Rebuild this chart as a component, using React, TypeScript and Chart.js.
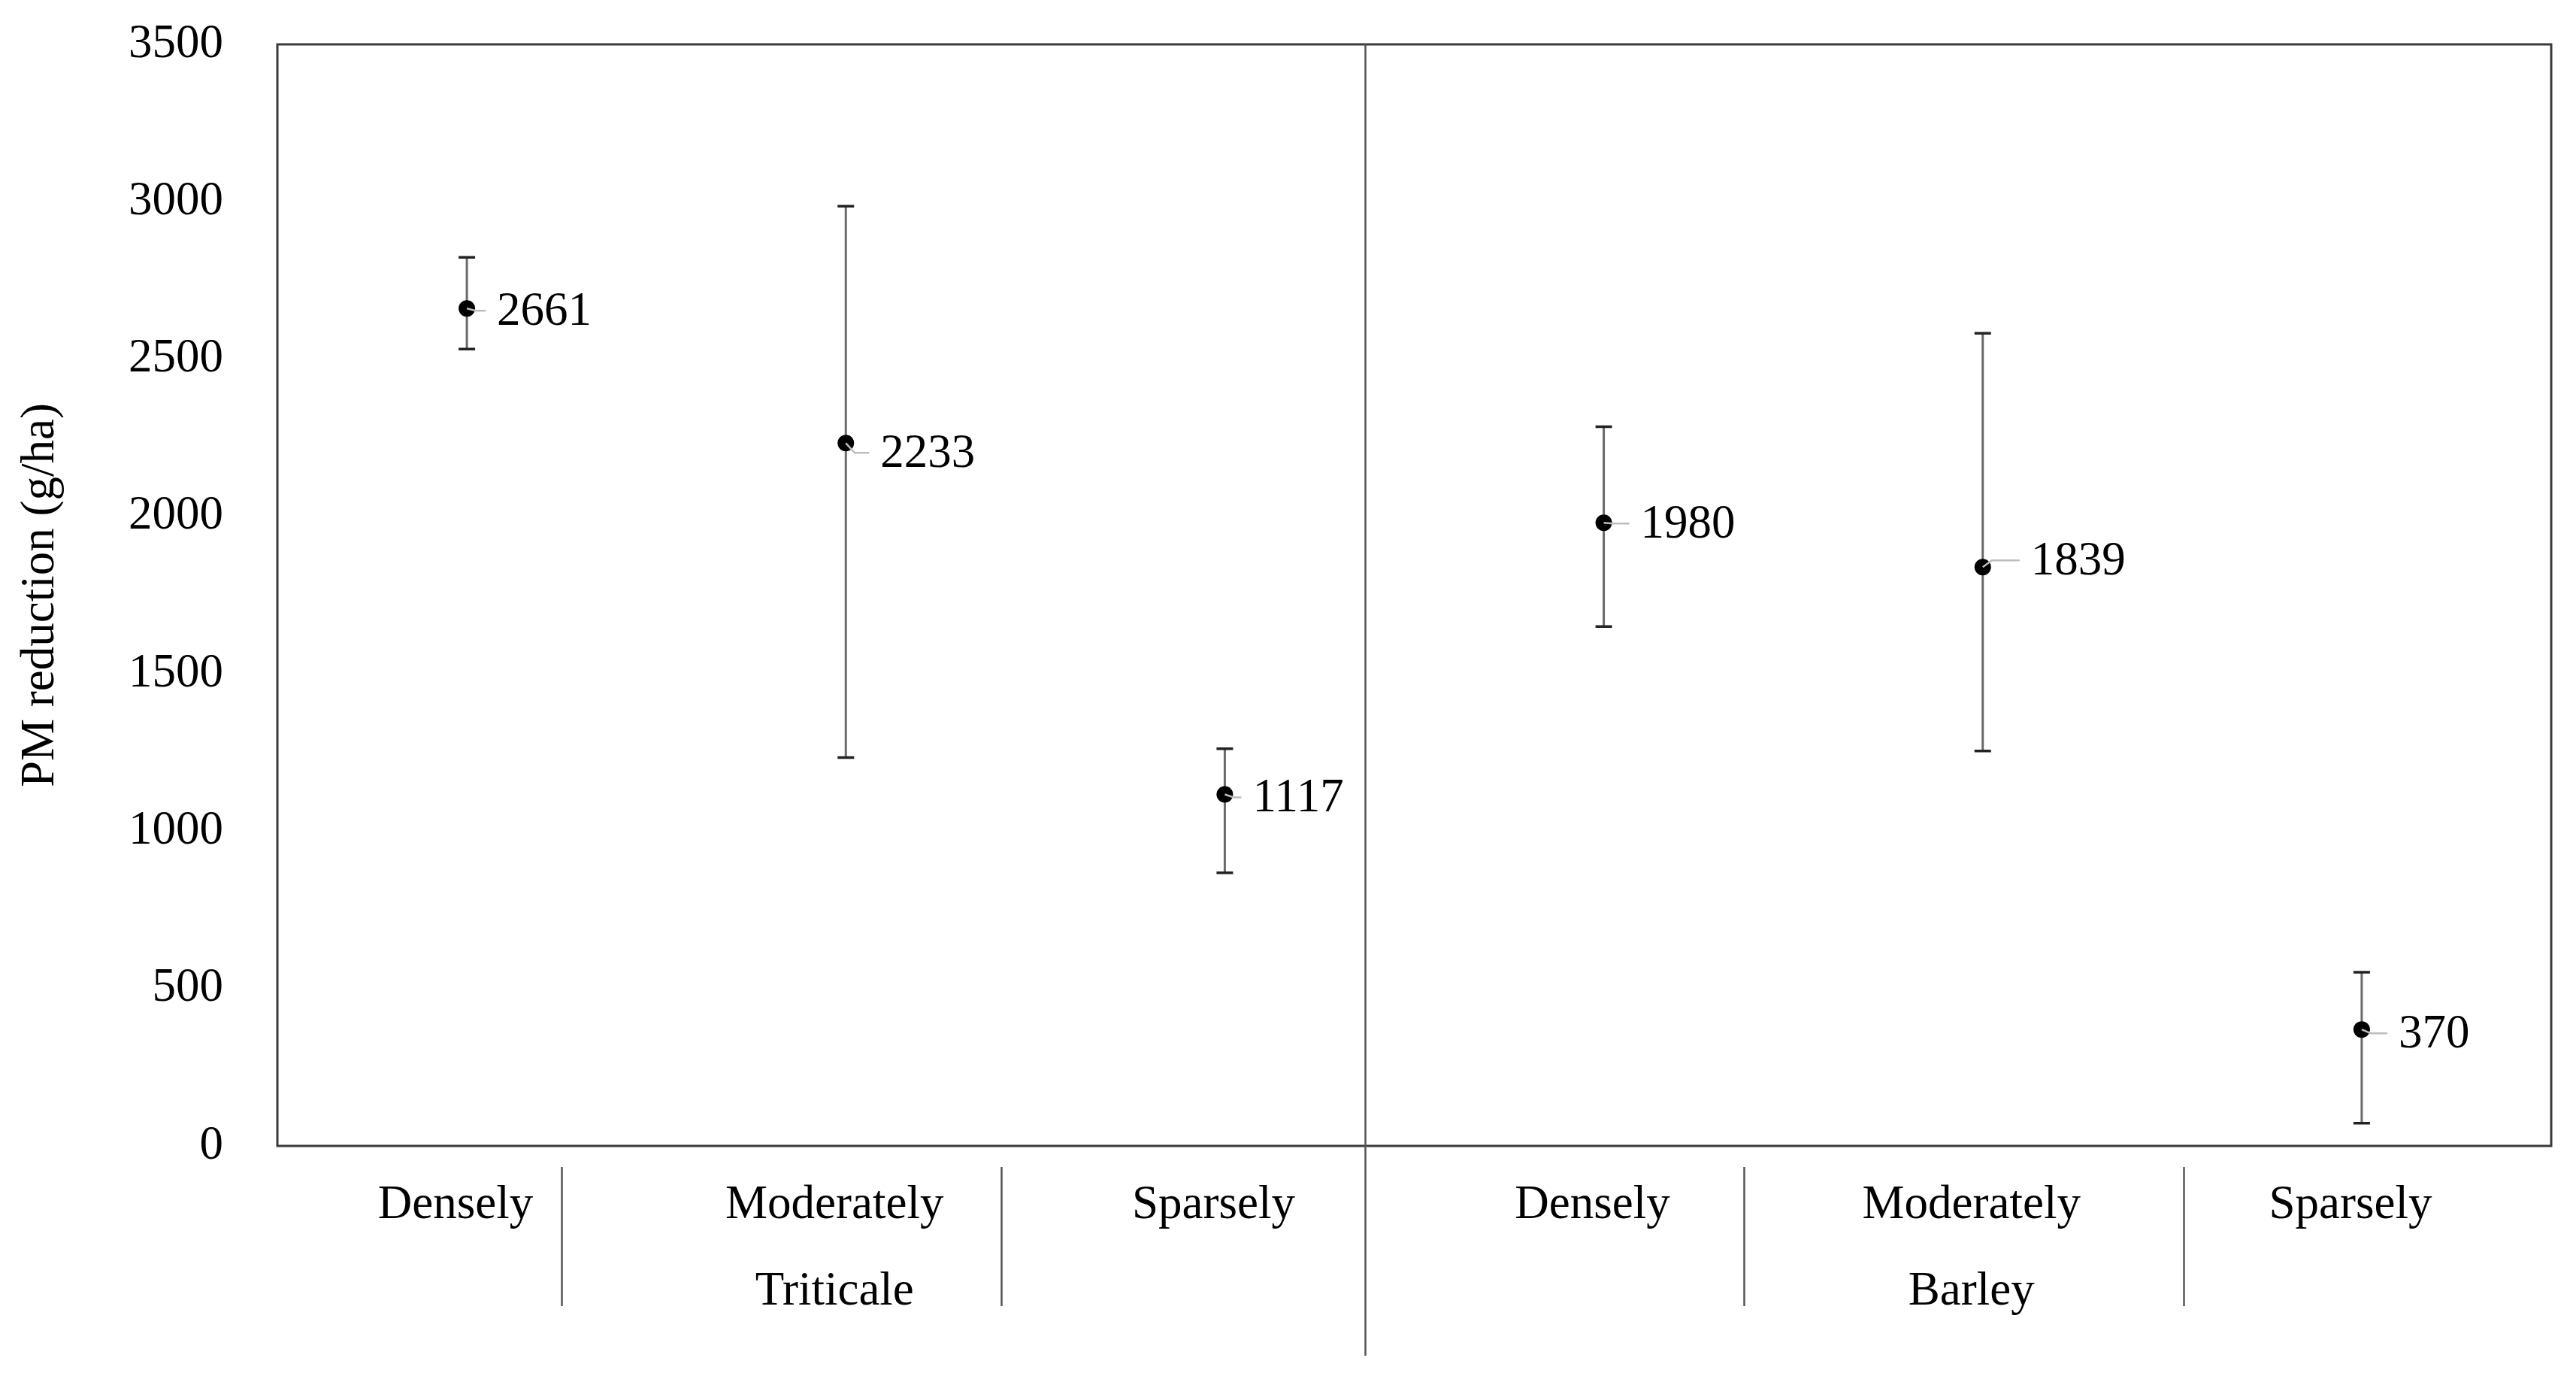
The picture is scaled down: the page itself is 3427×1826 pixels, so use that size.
import React, { useEffect, useRef } from 'react';
import { Chart, registerables } from 'chart.js';

Chart.register(...registerables);

// ---- data ----
const categories = ['Densely', 'Moderately', 'Sparsely', 'Densely', 'Moderately', 'Sparsely'];
const groups = ['Triticale', 'Barley'];
const meanValues = [2661, 2233, 1117, 1980, 1839, 370];
const lowerValues = [2532, 1234, 868, 1650, 1255, 72];
const upperValues = [2823, 2986, 1262, 2285, 2582, 552];
const yTickValues = [0, 500, 1000, 1500, 2000, 2500, 3000, 3500];
const yTitle = 'PM reduction (g/ha)';

// ---- styling / layout ----
const FONT = "'Liberation Serif', 'Times New Roman', serif";
const FONT_SIZE = 63;
// label offset (px) of each data label relative to its point: [dx to text left, dy to text middle]
const labelNudge: [number, number][] = [
  [40, 5],
  [46, 15],
  [37, 6],
  [49, 3],
  [64, -7],
  [49, 7],
];
// separator positions on the category axis (category index units)
const separatorAt = [0.25, 1.41, 2.37, 3.37, 4.53];
const groupDividerIndex = 2;

const xLabels = categories.map((c, i) => (i % 3 === 1 ? [c, groups[Math.floor(i / 3)]] : c));

const decorPlugin = {
  id: 'decor',
  beforeDatasetsDraw(chart: any) {
    const { ctx, chartArea, scales } = chart;
    const x = scales.x;
    const y = scales.y;
    ctx.save();
    // frame
    ctx.strokeStyle = '#3a3a3a';
    ctx.lineWidth = 3;
    ctx.strokeRect(chartArea.left, chartArea.top, chartArea.right - chartArea.left, chartArea.bottom - chartArea.top);
    // separators
    ctx.strokeStyle = '#555555';
    ctx.lineWidth = 2.5;
    separatorAt.forEach((v, i) => {
      const px = Math.round(x.getPixelForValue(v)) + 0.5;
      ctx.beginPath();
      if (i === groupDividerIndex) {
        ctx.moveTo(px, chartArea.top);
        ctx.lineTo(px, chartArea.bottom + 279);
      } else {
        ctx.moveTo(px, chartArea.bottom + 28);
        ctx.lineTo(px, chartArea.bottom + 213);
      }
      ctx.stroke();
    });
    // error bars
    meanValues.forEach((_, i) => {
      const px = x.getPixelForValue(i);
      const top = y.getPixelForValue(upperValues[i]);
      const bot = y.getPixelForValue(lowerValues[i]);
      ctx.strokeStyle = '#6a6a6a';
      ctx.lineWidth = 3;
      ctx.beginPath();
      ctx.moveTo(px, top);
      ctx.lineTo(px, bot);
      ctx.stroke();
      ctx.strokeStyle = '#222222';
      ctx.lineWidth = 3.5;
      ctx.beginPath();
      ctx.moveTo(px - 11, top);
      ctx.lineTo(px + 11, top);
      ctx.moveTo(px - 11, bot);
      ctx.lineTo(px + 11, bot);
      ctx.stroke();
    });
    ctx.restore();
  },
  afterDatasetsDraw(chart: any) {
    const { ctx, scales } = chart;
    const x = scales.x;
    const y = scales.y;
    ctx.save();
    meanValues.forEach((v, i) => {
      const px = x.getPixelForValue(i);
      const py = y.getPixelForValue(v);
      const [dx, dy] = labelNudge[i];
      // leader line
      ctx.strokeStyle = '#bdbdbd';
      ctx.lineWidth = 2.5;
      ctx.beginPath();
      ctx.moveTo(px, py);
      ctx.lineTo(px + 12, py + dy - 2);
      ctx.lineTo(px + dx - 15, py + dy - 2);
      ctx.stroke();
      // label
      ctx.fillStyle = '#000';
      ctx.font = `${FONT_SIZE}px ${FONT}`;
      ctx.textAlign = 'left';
      ctx.textBaseline = 'middle';
      ctx.fillText(String(v), px + dx, py + dy);
    });
    ctx.restore();
  },
};

export default function App() {
  const canvasRef = useRef<HTMLCanvasElement | null>(null);

  useEffect(() => {
    const canvas = canvasRef.current;
    if (!canvas) return;
    const chart = new Chart(canvas, {
      type: 'line',
      data: {
        labels: xLabels as any,
        datasets: [
          {
            data: meanValues,
            showLine: false,
            pointRadius: 11,
            pointBackgroundColor: '#000',
            pointBorderColor: '#000',
            pointBorderWidth: 0,
            clip: false as any,
          },
        ],
      },
      options: {
        responsive: false,
        animation: false,
        devicePixelRatio: 1,
        events: [],
        layout: { padding: { left: 0, right: 33, top: 59, bottom: 0 } },
        plugins: {
          legend: { display: false },
          tooltip: { enabled: false },
          title: { display: false },
        },
        scales: {
          x: {
            type: 'category',
            offset: true,
            grid: { display: false, drawTicks: false },
            border: { display: false },
            ticks: {
              autoSkip: false,
              maxRotation: 0,
              minRotation: 0,
              padding: 21,
              labelOffset: -15,
              color: '#000',
              font: { family: FONT, size: FONT_SIZE, lineHeight: 1.84 },
            },
            afterFit(scale: any) {
              scale.height = 302;
              scale.paddingLeft = 0;
              scale.paddingRight = 0;
            },
          },
          y: {
            type: 'linear',
            min: 0,
            max: 3500,
            grid: { display: false, drawTicks: false },
            border: { display: false },
            afterBuildTicks(scale: any) {
              scale.ticks = yTickValues.map((v) => ({ value: v }));
            },
            ticks: {
              padding: 72,
              color: '#000',
              font: { family: FONT, size: FONT_SIZE },
              callback: (v: any) => String(v),
            },
            title: {
              display: true,
              text: yTitle,
              color: '#000',
              font: { family: FONT, size: FONT_SIZE, lineHeight: 1.2 },
              padding: { top: 17, bottom: 0 },
            },
            afterFit(scale: any) {
              scale.width = 369;
              scale.paddingTop = 0;
              scale.paddingBottom = 0;
            },
          },
        },
      },
      plugins: [decorPlugin],
    });
    return () => chart.destroy();
  }, []);

  return (
    <div style={{ position: 'fixed', left: 0, top: 0, width: '3427px', height: '1826px', background: '#fff' }}>
      <canvas ref={canvasRef} width={3427} height={1826} style={{ display: 'block' }} />
    </div>
  );
}
